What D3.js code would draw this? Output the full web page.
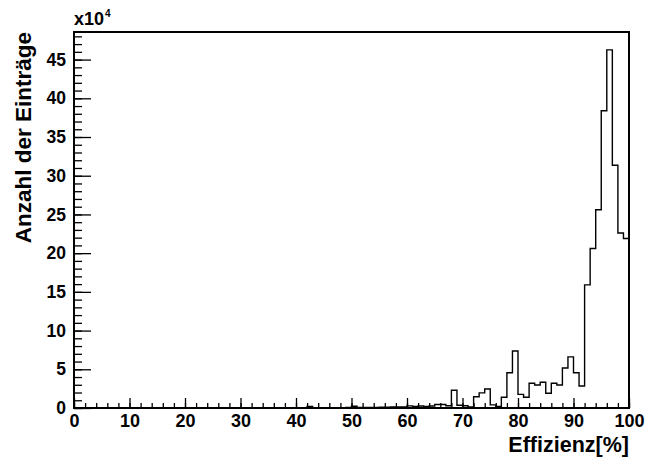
<!DOCTYPE html>
<html>
<head>
<meta charset="utf-8">
<script src="https://cdn.jsdelivr.net/npm/d3@7"></script>
<style>
  html, body { margin: 0; padding: 0; background: #fff; }
  svg { display: block; }
  text { font-family: "Liberation Sans", Arial, Helvetica, sans-serif; font-weight: bold; fill: #000; }
</style>
</head>
<body>
<svg id="chart" width="650" height="460"></svg>
<script>
// Histogram of efficiency values: 100 bins of 1 % each, counts in units of 10^4
const binEdges = d3.range(0, 101, 1);
const counts = [
  0, 0, 0, 0, 0, 0, 0, 0, 0, 0,
  0, 0, 0, 0, 0, 0, 0, 0, 0, 0,
  0, 0, 0, 0, 0, 0, 0, 0, 0, 0,
  0, 0, 0, 0, 0, 0, 0, 0, 0, 0,
  0.02, 0.03, 0.2, 0.05, 0.03, 0.03, 0.04, 0.05, 0.05, 0.06,
  0.22, 0.07, 0.06, 0.07, 0.08, 0.09, 0.1, 0.12, 0.12, 0.15,
  0.28, 0.2, 0.25, 0.2, 0.25, 0.45, 0.45, 0.3, 2.3, 0.35,
  0.3, 0.15, 1.45, 1.95, 2.45, 0.4, 0.2, 1.38, 4.56, 7.36,
  1.76, 1.38, 3.19, 2.97, 3.32, 1.9, 3.19, 2.97, 5.17, 6.6,
  4.56, 2.84, 15.9, 20.6, 25.6, 38.4, 46.25, 31.35, 22.6, 21.9
];
const xMajorTicks = [0, 10, 20, 30, 40, 50, 60, 70, 80, 90, 100];
const xMinorTicks = d3.range(0, 101, 2);
const yMajorTicks = [0, 5, 10, 15, 20, 25, 30, 35, 40, 45];
const yMinorTicks = d3.range(0, 49, 1);
const xTitle = "Effizienz[%]";
const yTitle = "Anzahl der Einträge";

const svg = d3.select("#chart");
const frame = { left: 74, right: 629, top: 32, bottom: 408 };

const yMax = d3.max(counts) * 1.05;
const x = d3.scaleLinear().domain([0, 100]).range([frame.left, frame.right]);
const y = d3.scaleLinear().domain([0, yMax]).range([frame.bottom, frame.top]);

// step outline of the histogram
const pts = [[binEdges[0], 0]];
counts.forEach((c, i) => {
  pts.push([binEdges[i], c]);
  pts.push([binEdges[i + 1], c]);
});
pts.push([binEdges[binEdges.length - 1], 0]);
const line = d3.line().x(d => x(d[0])).y(d => y(d[1]));
svg.append("path")
  .attr("d", line(pts))
  .attr("fill", "none")
  .attr("stroke", "#000")
  .attr("stroke-width", 1.4);

// frame
svg.append("rect")
  .attr("x", frame.left).attr("y", frame.top)
  .attr("width", frame.right - frame.left).attr("height", frame.bottom - frame.top)
  .attr("fill", "none").attr("stroke", "#000").attr("stroke-width", 2);

// x axis: ticks point into the frame
svg.append("g").attr("transform", `translate(0,${frame.bottom})`)
  .call(d3.axisBottom(x).tickValues(xMinorTicks).tickSize(-5).tickFormat(""));
const xMajor = svg.append("g").attr("transform", `translate(0,${frame.bottom})`)
  .call(d3.axisBottom(x).tickValues(xMajorTicks).tickSize(-10).tickPadding(6).tickFormat(d3.format("d")));
xMajor.selectAll("text").attr("font-size", 18).attr("dy", "0.72em")
  .style("font-family", "'Liberation Sans', Arial, sans-serif").style("font-weight", "bold");

// y axis
svg.append("g").attr("transform", `translate(${frame.left},0)`)
  .call(d3.axisLeft(y).tickValues(yMinorTicks).tickSize(-8).tickFormat(""));
const yMajor = svg.append("g").attr("transform", `translate(${frame.left},0)`)
  .call(d3.axisLeft(y).tickValues(yMajorTicks).tickSize(-17).tickPadding(8).tickFormat(d3.format("d")));
yMajor.selectAll("text").attr("font-size", 17.5)
  .style("font-family", "'Liberation Sans', Arial, sans-serif").style("font-weight", "bold");

svg.selectAll(".domain").remove();
svg.selectAll(".tick line").attr("stroke", "#000").attr("stroke-width", 1.3);

// exponent label
const expo = svg.append("text").attr("x", 74).attr("y", 25).attr("font-size", 18);
expo.append("tspan").text("x10");
expo.append("tspan").attr("font-size", 10).attr("dy", -8).attr("dx", 1).text("4");

// axis titles
svg.append("text")
  .attr("x", frame.right).attr("y", 452)
  .attr("text-anchor", "end").attr("font-size", 21.5)
  .text(xTitle);
svg.append("text")
  .attr("transform", `translate(31,${frame.top}) rotate(-90)`)
  .attr("text-anchor", "end").attr("font-size", 22.5)
  .text(yTitle);
</script>
</body>
</html>
